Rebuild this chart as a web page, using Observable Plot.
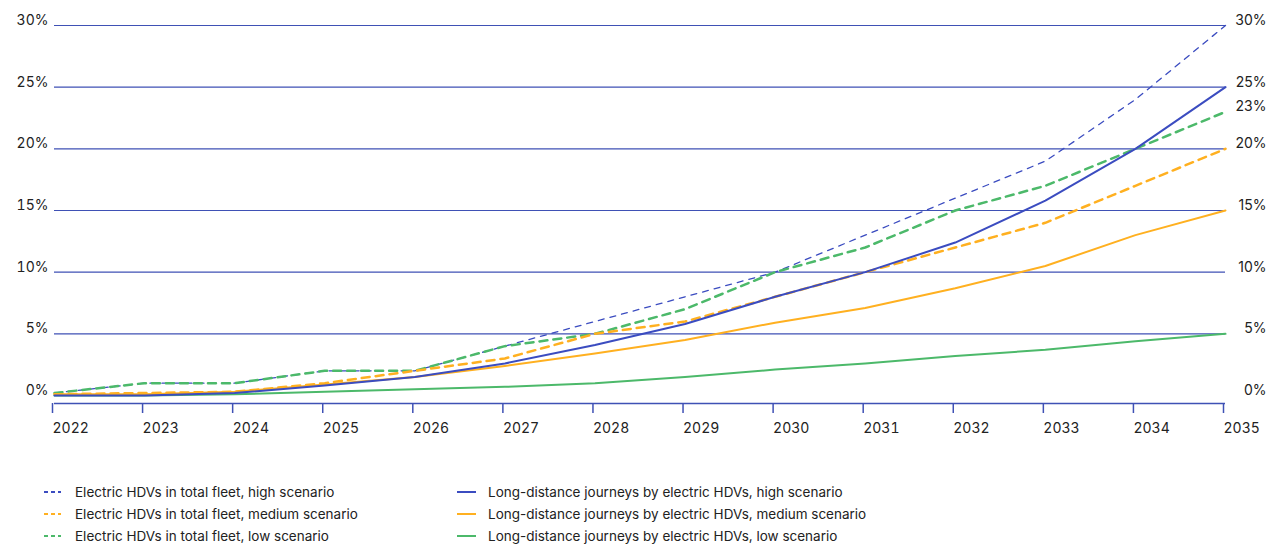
<!DOCTYPE html>
<html><head><meta charset="utf-8">
<script src="https://cdn.jsdelivr.net/npm/d3@7"></script>
<script src="https://cdn.jsdelivr.net/npm/@observablehq/plot@0.6"></script>
<style>
body{margin:0;background:#fff;font-family:Inter, "Noto Sans", sans-serif;color:#222;}
#wrap{position:relative;width:1286px;height:546px;}
.leg{position:absolute;font-size:13.5px;color:#222;display:flex;align-items:center;height:20px;white-space:nowrap;}
.sym{display:inline-block;width:17px;height:2px;margin-right:14px;}
.solid{width:19px;margin-right:12px;}
</style></head><body><div id="wrap"><div id="chart"></div></div>
<script>
const years = [2022,2023,2024,2025,2026,2027,2028,2029,2030,2031,2032,2033,2034,2035];
const fleetHigh   = [0.2,1,1,2,2,4,6,8,10,13,16,19,24,30];
const fleetMedium = [0.1,0.2,0.3,1,2,3,5,6,8,10,12,14,17,20];
const fleetLow    = [0.2,1,1,2,2,4,5,7,10,12,15,17,20,23];
const longHigh    = [0,0,0.2,0.8,1.5,2.6,4.1,5.8,8,10,12.4,15.8,20,25];
const longMedium  = [0.1,0.1,0.3,0.9,1.5,2.4,3.4,4.5,5.9,7.1,8.7,10.5,13,15];
const longLow     = [0,0,0.1,0.3,0.5,0.7,1,1.5,2.1,2.6,3.2,3.7,4.4,5];
const leftTicks  = [0,5,10,15,20,25,30];
const rightTicks = [0,5,10,15,20,23,25,30];
const gridTicks  = [5,10,15,20,25,30];

const BLUE = "#3b4cc0", ORANGE = "#ffb020", GREEN = "#4cb96a", GRID = "#3f51b5";
const series = [
  {name:"Electric HDVs in total fleet, high scenario", values:fleetHigh, color:BLUE, dash:"6,6", w:1.3},
  {name:"Electric HDVs in total fleet, low scenario", values:fleetLow, color:GREEN, dash:"8,6", w:2.5},
  {name:"Electric HDVs in total fleet, medium scenario", values:fleetMedium, color:ORANGE, dash:"8,6", w:2.5},
  {name:"Long-distance journeys by electric HDVs, low scenario", values:longLow, color:GREEN, dash:null, w:2},
  {name:"Long-distance journeys by electric HDVs, medium scenario", values:longMedium, color:ORANGE, dash:null, w:2},
  {name:"Long-distance journeys by electric HDVs, high scenario", values:longHigh, color:BLUE, dash:null, w:2}
];
const yMin = -0.65;

const marks = [
  Plot.ruleY(gridTicks, {stroke: GRID, strokeWidth: 1.2}),
  Plot.ruleY([yMin], {stroke: GRID, strokeWidth: 1.5}),
  Plot.axisX({ticks: years, tickFormat: d => String(d), tickSize: 10, tickPadding: 10, textAnchor: "start", dx: -2, stroke: GRID, fill: "#222", strokeWidth: 1.5, label: null}),
  Plot.axisY({ticks: leftTicks, tickFormat: d => d + "%", tickSize: 0, tickPadding: 6, dy: -5, fill: "#222", label: null}),
  Plot.text(rightTicks, {x: () => 2035, y: d => d, text: d => d + "%", textAnchor: "end", dx: 41, dy: -5, fill: "#222", fontSize: 14})
];
for (const s of series) {
  const data = years.map((yr, i) => ({year: yr, v: s.values[i]}));
  marks.push(Plot.line(data, {x: "year", y: "v", stroke: s.color, strokeWidth: s.w, strokeDasharray: s.dash || undefined, curve: "linear"}));
}

const chart = Plot.plot({
  width: 1286, height: 450,
  marginTop: 25, marginBottom: 47, marginLeft: 54, marginRight: 61,
  style: {fontSize: "14px", fontFamily: "Inter, 'Noto Sans', sans-serif", color: "#222", background: "#fff"},
  x: {domain: [2022, 2035], axis: null},
  y: {domain: [yMin, 30], axis: null},
  marks
});
document.getElementById("chart").appendChild(chart);

const legendItems = [
  {name:"Electric HDVs in total fleet, high scenario", color:BLUE, cls:"dash", col:0, row:0},
  {name:"Electric HDVs in total fleet, medium scenario", color:ORANGE, cls:"dash", col:0, row:1},
  {name:"Electric HDVs in total fleet, low scenario", color:GREEN, cls:"dash", col:0, row:2},
  {name:"Long-distance journeys by electric HDVs, high scenario", color:BLUE, cls:"solid", col:1, row:0},
  {name:"Long-distance journeys by electric HDVs, medium scenario", color:ORANGE, cls:"solid", col:1, row:1},
  {name:"Long-distance journeys by electric HDVs, low scenario", color:GREEN, cls:"solid", col:1, row:2}
];
const wrap = document.getElementById("wrap");
for (const it of legendItems) {
  const d = document.createElement("div");
  d.className = "leg";
  d.style.left = (it.col === 0 ? 44 : 457) + "px";
  d.style.top = (482 + it.row * 22) + "px";
  const sym = document.createElement("span");
  sym.className = "sym " + it.cls;
  if (it.cls === "dash") {
    sym.style.background = `repeating-linear-gradient(to right, ${it.color} 0 4px, transparent 4px 7px)`;
  } else {
    sym.style.background = it.color;
  }
  const t = document.createElement("span");
  t.textContent = it.name;
  d.appendChild(sym); d.appendChild(t);
  wrap.appendChild(d);
}
</script></body></html>
